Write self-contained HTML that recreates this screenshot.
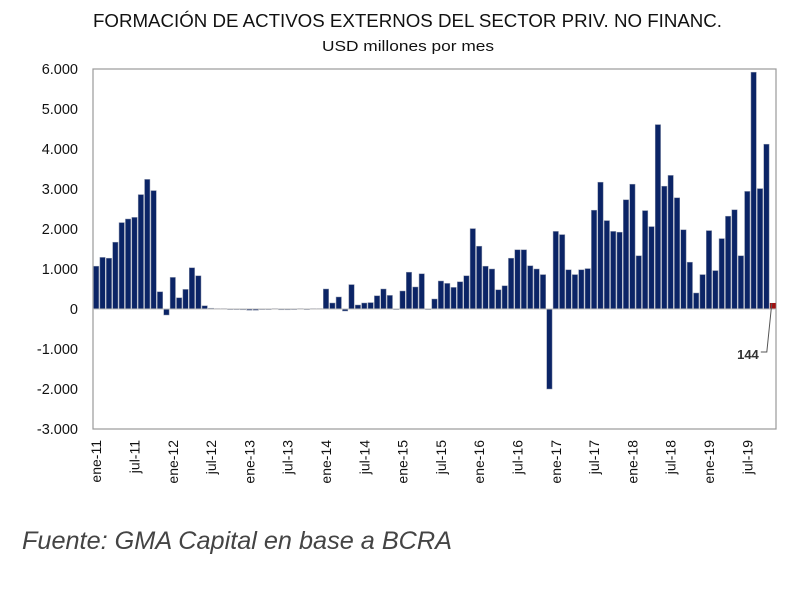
<!DOCTYPE html>
<html><head><meta charset="utf-8"><style>
html,body{margin:0;padding:0;background:#fff;width:800px;height:593px;overflow:hidden}
svg{display:block;font-family:"Liberation Sans",sans-serif}
</style></head><body>
<svg id="chart" width="800" height="593" viewBox="0 0 800 593">
<text x="93" y="27" textLength="629" lengthAdjust="spacingAndGlyphs" font-size="18" fill="#111">FORMACIÓN DE ACTIVOS EXTERNOS DEL SECTOR PRIV. NO FINANC.</text>
<text x="322" y="51" textLength="172" lengthAdjust="spacingAndGlyphs" font-size="15" fill="#111">USD millones por mes</text>
<rect x="93" y="69" width="683" height="360" fill="none" stroke="#999" stroke-width="1.2"/>
<g id="yaxis"></g>
<g id="bars"></g>
<g id="xaxis"></g>
<text id="ann" font-size="13" font-weight="bold" fill="#333" text-anchor="end"></text>
<path id="annline" fill="none" stroke="#555" stroke-width="1"/>
<text x="22" y="549" textLength="430" lengthAdjust="spacingAndGlyphs" font-size="25" font-style="italic" fill="#444">Fuente: GMA Capital en base a BCRA</text>
</svg>
<script>
const yTicks = [6000,5000,4000,3000,2000,1000,0,-1000,-2000,-3000];
const yTickLabels = ["6.000","5.000","4.000","3.000","2.000","1.000","0","-1.000","-2.000","-3.000"];
const xTickLabels = ["ene-11","jul-11","ene-12","jul-12","ene-13","jul-13","ene-14","jul-14","ene-15","jul-15","ene-16","jul-16","ene-17","jul-17","ene-18","jul-18","ene-19","jul-19"];
const values = [
1070,1290,1270,1670,2160,2250,2290,2860,3240,2960,430,-150,
790,280,490,1030,830,80,20,10,10,0,-10,-20,
-30,-30,-10,0,10,-20,-20,0,10,0,10,10,
500,150,300,-50,610,100,150,160,330,500,340,0,
450,920,550,880,0,250,700,640,540,680,830,2010,
1570,1070,1000,480,580,1270,1480,1480,1080,1000,860,-2000,
1940,1860,980,860,980,1010,2470,3170,2210,1940,1920,2730,
3120,1330,2460,2060,4610,3070,3340,2780,1980,1170,400,860,
1960,960,1760,2320,2480,1330,2940,5920,3010,4120,144];
const lastLabel = "144";

const NS="http://www.w3.org/2000/svg";
const px0=93, pw=683, py0=69, ph=360, yMax=6000, yMin=-3000;
const n=values.length, slot=pw/n;
function y(v){return py0+(yMax-v)/(yMax-yMin)*ph;}
function xc(i){return px0+slot*(i+0.5);}
function mk(t,a,p){const e=document.createElementNS(NS,t);for(const k in a)e.setAttribute(k,a[k]);p.appendChild(e);return e;}

const ya=document.getElementById('yaxis');
yTicks.forEach((t,i)=>{
 const e=mk('text',{x:78,y:y(t)+5,'text-anchor':'end','font-size':14.5,fill:'#111'},ya);
 
 
 e.textContent=yTickLabels[i];
});
const bg=document.getElementById('bars');
values.forEach((v,i)=>{
 const last=i===n-1;
 const top=Math.min(y(v),y(0)), h=Math.max(Math.abs(y(v)-y(0)),0.6);
 const r=mk('rect',{x:xc(i)-slot*0.42,y:top,width:slot*0.84,height:h,fill:last?'#a01010':'#0b2466',stroke:last?'#a01010':'#8a93aa','stroke-width':0.5},bg);
 
 
});
mk('line',{x1:px0,x2:px0+pw,y1:y(0),y2:y(0),stroke:'#bbb','stroke-width':1},bg);
const xa=document.getElementById('xaxis');
xTickLabels.forEach((l,k)=>{
 const xx=xc(k*6)+5;
 const e=mk('text',{x:0,y:0,'text-anchor':'end','font-size':14,fill:'#111',transform:`translate(${xx},440) rotate(-90)`},xa);
 
 
 e.textContent=l;
});
const ann=document.getElementById('ann');
ann.setAttribute('x',xc(n-1)-14);
ann.setAttribute('y',y(0)+50);
ann.textContent=lastLabel;
document.getElementById('annline').setAttribute('d',`M${xc(n-1)-12} ${y(0)+43} H${xc(n-1)-6} L${xc(n-1)-1} ${y(values[n-1])}`);
</script>
</body></html>
